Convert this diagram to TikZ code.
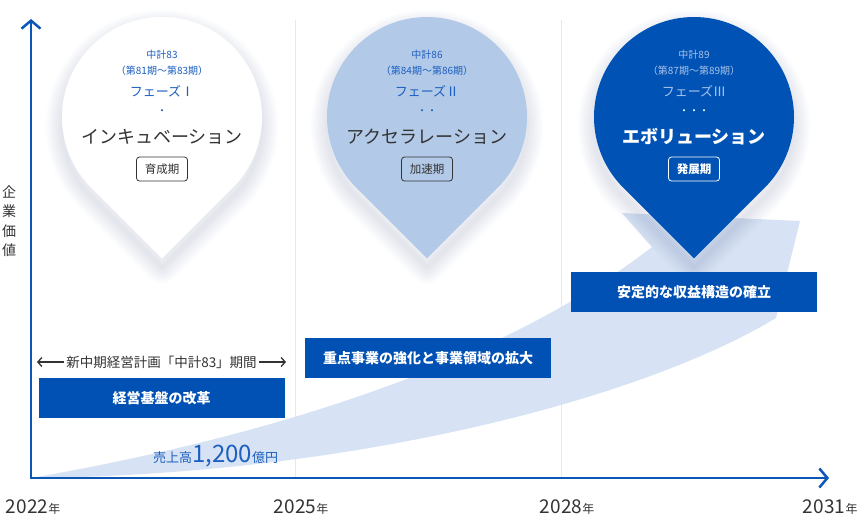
\documentclass[tikz,border=0pt]{standalone}
\usepackage{fontspec}
\setmainfont{Noto Sans CJK JP}
\usetikzlibrary{arrows.meta}

\definecolor{axisblue}{HTML}{0A57B8}
\definecolor{boxblue}{HTML}{0051B3}
\definecolor{pinblue}{HTML}{1C5FBF}
\definecolor{pinlight}{HTML}{B2C9E8}
\definecolor{pindark}{HTML}{0053B4}
\definecolor{bandblue}{HTML}{D7E3F4}
\definecolor{darktext}{HTML}{333333}
\definecolor{gridgray}{HTML}{E8E8E8}
\definecolor{shadowc}{HTML}{4A5A8A}
\definecolor{softtext}{HTML}{A9C2EA}

% pin outline: circle of radius 100 round (#1,#2), tip below
\newcommand{\pinpath}[2]{(#1,#2+141.42) -- (#1+70.71,#2+70.71) arc[start angle=45, end angle=-225, radius=100] -- cycle}

\tikzset{
	small/.style={font=\fontsize{10}{10}\selectfont, text=pinblue},
	phase/.style={font=\fontsize{13}{13}\selectfont, text=pinblue},
	title/.style={font=\fontsize{18}{18}\selectfont, text=darktext},
	tag/.style={draw=darktext, rounded corners=3pt, line width=0.8pt, font=\fontsize{11.5}{11.5}\selectfont, text=darktext, minimum width=51pt, minimum height=24pt, inner sep=0pt},
	plan/.style={fill=boxblue, text=white, font=\bfseries\fontsize{14}{14}\selectfont, minimum width=246pt, minimum height=40pt, inner sep=0pt},
	year/.style={font=\fontsize{19}{19}\selectfont, text=darktext, inner sep=0pt},
	yearunit/.style={font=\fontsize{12}{12}\selectfont, text=darktext, inner sep=0pt, anchor=base west},
	axis/.style={axisblue, line width=2.5pt, {Straight Barb[length=8pt,width=19pt]}-{Straight Barb[length=8pt,width=19pt]}},
	termarrow/.style={darktext, line width=1.3pt, -{Straight Barb[length=4pt,width=9pt]}}
}

\begin{document}
\begin{tikzpicture}[x=1pt, y=-1pt]
	\useasboundingbox (0,0) rectangle (861,520);

	\foreach \gx in {295,561}{
		\draw[gridgray, line width=1pt] (\gx,20) -- (\gx,477);
	}

	% growth arrow
	\fill[bandblue] (31,478) .. controls (220,445) and (480,380) .. (652,247) -- (622,213) -- (800,221) -- (776,318) .. controls (640,400) and (350,475) .. (31,478) -- cycle;

	% pins
	\foreach \px in {162,427,694}{
		\foreach \w in {4,8,...,32}
			\draw[shadowc, opacity=0.02, line width=\w pt, line join=round] \pinpath{\px}{126};
	}
	\fill[white] \pinpath{162}{117};
	\fill[pinlight] \pinpath{427}{117};
	\fill[pindark] \pinpath{694}{117};

	\node[small] (p1a) at (162,55) {中計83};
	\node[small] (p1b) at (162,71) {（第81期～第83期）};
	\node[phase] (p1c) at (162,91) {フェーズⅠ};
	\node[small] (p1d) at (162,112) {・};
	\node[title] (p1e) at (162,137) {インキュベーション};
	\node[tag] (p1f) at (162,169) {育成期};

	\node[small] (p2a) at (427,55) {中計86};
	\node[small] (p2b) at (427,71) {（第84期～第86期）};
	\node[phase] (p2c) at (427,91) {フェーズⅡ};
	\node[small] (p2d) at (427,112) {・・};
	\node[title] (p2e) at (427,137) {アクセラレーション};
	\node[tag] (p2f) at (427,169) {加速期};

	\node[small, text=softtext] (p3a) at (694,55) {中計89};
	\node[small, text=softtext] (p3b) at (694,71) {（第87期～第89期）};
	\node[phase, text=softtext] (p3c) at (694,91) {フェーズⅢ};
	\node[small, text=white] (p3d) at (694,112) {・・・};
	\node[title, text=white, font=\bfseries\fontsize{18}{18}\selectfont] (p3e) at (694,137) {エボリューション};
	\node[tag, draw=white, text=white, font=\bfseries\fontsize{11.5}{11.5}\selectfont] (p3f) at (694,169) {発展期};

	% plans
	\node[plan] (b1) at (161.5,398) {経営基盤の改革};
	\node[plan] (b2) at (428,358) {重点事業の強化と事業領域の拡大};
	\node[plan] (b3) at (694,292) {安定的な収益構造の確立};

	\node[font=\fontsize{13.5}{13.5}\selectfont, text=darktext, inner sep=2pt] (term) at (161.5,362) {新中期経営計画「中計83」期間};
	\coordinate (la) at (37,362);
	\coordinate (ra) at (286,362);
	\draw[termarrow] (term.west) -- (la);
	\draw[termarrow] (term.east) -- (ra);

	\node[anchor=base west, text=pinblue, inner sep=0pt] (sales) at (153,462) {{\fontsize{13}{13}\selectfont 売上高}{\fontsize{24}{24}\selectfont 1,200}{\fontsize{13}{13}\selectfont 億円}};

	% axes
	\coordinate (o) at (31,478);
	\coordinate (ytop) at (31,19);
	\coordinate (xend) at (829,478);
	\draw[axis] (ytop) -- (o) -- (xend);

	\node[align=center, font=\fontsize{14}{19.5}\selectfont, text=darktext, inner sep=0pt] (ylabel) at (9,221) {企\\業\\価\\値};

	\node[year] (y22) at (27,507) {2022};
	\node[yearunit] at (y22.base east) {年};
	\node[year] (y25) at (295,507) {2025};
	\node[yearunit] at (y25.base east) {年};
	\node[year] (y28) at (561,507) {2028};
	\node[yearunit] at (y28.base east) {年};
	\node[year] (y31) at (824,507) {2031};
	\node[yearunit] at (y31.base east) {年};
\end{tikzpicture}
\end{document}
